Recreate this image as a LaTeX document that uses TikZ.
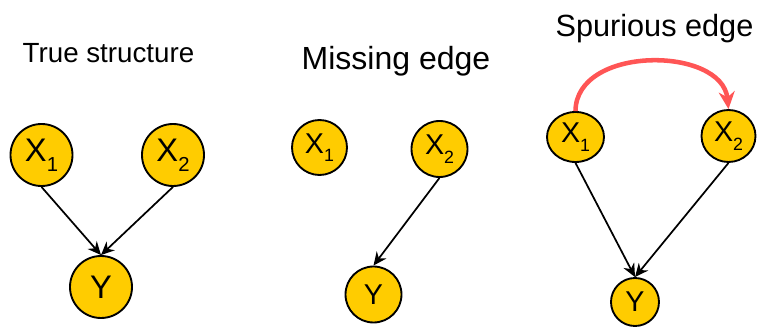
\documentclass[tikz,border=0pt]{standalone}
\usepackage{fontspec}
\setmainfont{Liberation Sans}
\usepackage{graphicx}
\usetikzlibrary{arrows.meta,shapes.geometric}
\definecolor{nodegold}{RGB}{255,204,0}
\definecolor{spurred}{RGB}{255,85,85}
\newcommand{\subnum}[1]{\raisebox{-0.3em}{\scalebox{0.62}{#1}}}

\begin{document}
\begin{tikzpicture}[
  x=0.75pt, y=-0.75pt,
  var/.style={circle, draw, line width=1.4pt, fill=nodegold, inner sep=0pt},
  oval/.style={ellipse, draw, line width=1.4pt, fill=nodegold, inner sep=0pt},
  lbig/.style={font=\fontsize{24.5}{24}\selectfont},
  lsmall/.style={font=\fontsize{21.5}{21}\selectfont},
  title/.style={anchor=base, inner sep=0pt},
  arrow/.style={-{Stealth[length=10pt,width=9pt]}, line width=1.3pt},
  spurious/.style={-{Stealth[length=13pt,width=12pt]}, line width=3.4pt, color=spurred}
]
  \useasboundingbox (0,0) rectangle (761,327);

  % Titles
  \node[title, font=\fontsize{20.8}{24}\selectfont] (ttrue) at (108.5,63) {True structure};
  \node[title, font=\fontsize{24}{28}\selectfont] (tmiss) at (396,70) {Missing edge};
  \node[title, font=\fontsize{23}{28}\selectfont] (tspur) at (654.5,37) {Spurious edge};

  % True structure
  \node[var, lbig, minimum size=46.5pt] (x1a) at (41.5,155) {X\subnum{1}};
  \node[var, lbig, minimum size=46.5pt] (x2a) at (173,155) {X\subnum{2}};
  \node[var, lbig, minimum size=46.5pt] (ya) at (101,287) {Y};
  \draw[arrow] (x1a.south) -- (ya.north);
  \draw[arrow] (x2a.south) -- (ya.north);

  % Missing edge
  \node[var, lsmall, minimum size=41.25pt] (x1b) at (319.5,147.5) {X\subnum{1}};
  \node[var, lsmall, minimum size=42pt] (x2b) at (439.5,149) {X\subnum{2}};
  \node[var, lsmall, minimum size=42pt] (yb) at (373.5,294.5) {Y};
  \draw[arrow] (x2b.south) -- (yb.north);

  % Spurious edge
  \node[oval, lsmall, minimum width=42.75pt, minimum height=37.5pt] (x1c) at (575.5,137) {X\subnum{1}};
  \node[oval, lsmall, minimum width=40.5pt, minimum height=39pt] (x2c) at (728.5,136) {X\subnum{2}};
  \node[var, lsmall, minimum size=36pt] (yc) at (635,302) {Y};
  \draw[arrow] (x1c.south) -- (yc.north);
  \draw[arrow] (x2c.south) -- (yc.north);
  \draw[spurious] (x1c.north) .. controls (576,45) and (722,46) .. (x2c.north);

\end{tikzpicture}
\end{document}
